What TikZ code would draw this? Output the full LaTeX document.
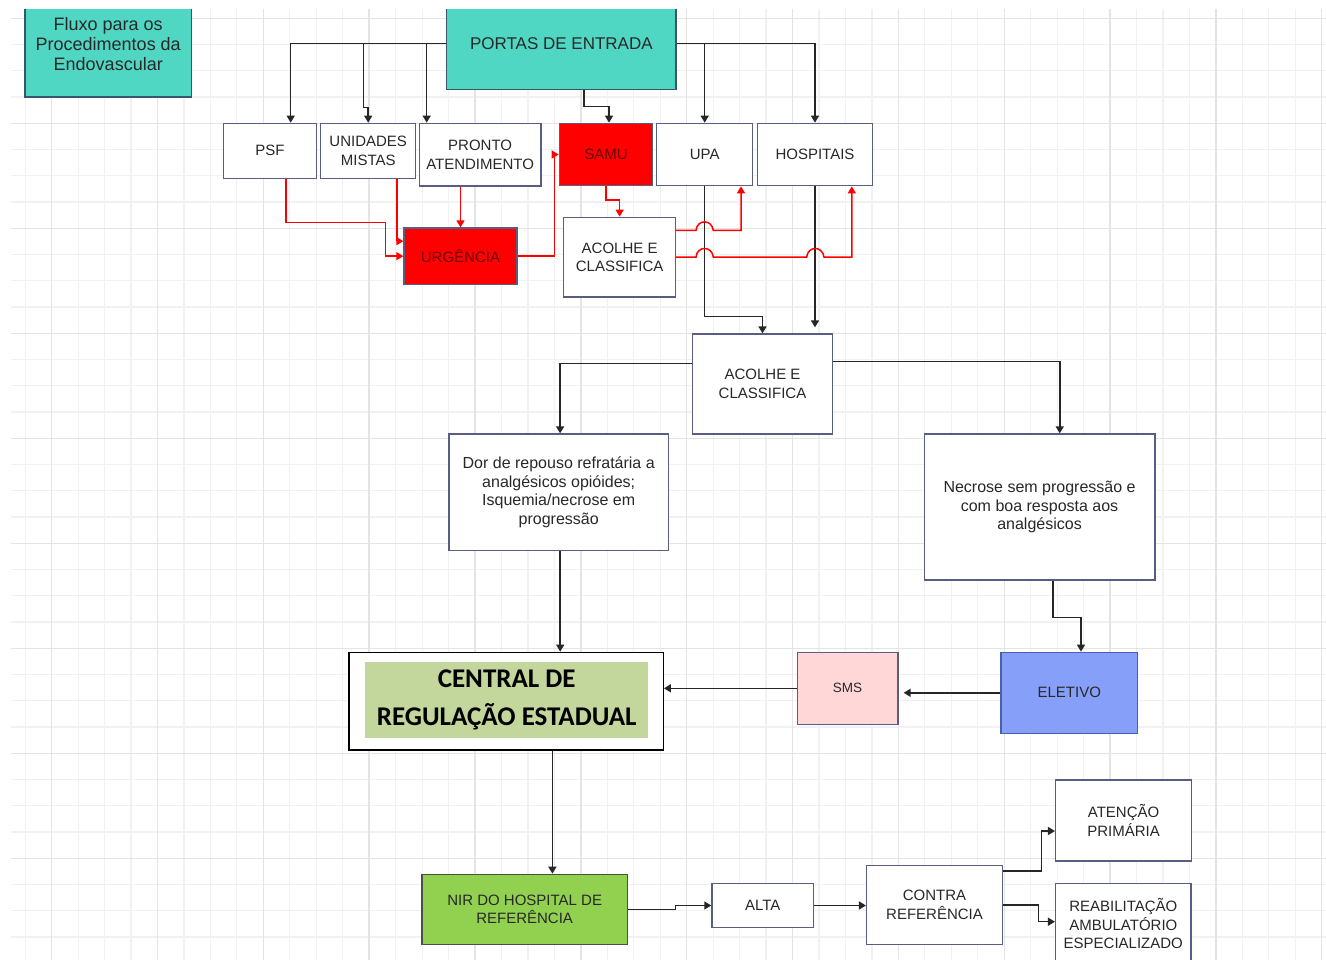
\documentclass[tikz,border=0pt]{standalone}
\usepackage{fontspec}
\setmainfont{Liberation Sans}
\newfontfamily\calfont{Carlito}
\usetikzlibrary{arrows.meta,calc}
\definecolor{gridl}{RGB}{241,241,241}
\definecolor{gridh}{RGB}{228,228,228}
\definecolor{turq}{RGB}{80,215,196}
\definecolor{tborder}{RGB}{55,85,110}
\definecolor{bordc}{RGB}{88,94,130}
\definecolor{txtc}{RGB}{40,40,40}
\definecolor{dred}{RGB}{105,0,0}
\definecolor{cgreen}{RGB}{195,214,155}
\definecolor{spink}{RGB}{255,215,215}
\definecolor{eblue}{RGB}{134,160,250}
\definecolor{eborder}{RGB}{70,95,175}
\definecolor{ngreen}{RGB}{146,208,80}
\definecolor{nborder}{RGB}{70,80,70}
\newcommand\labfont{\fontsize{15}{18.5}\selectfont}
\newcommand\longfont{\fontsize{16}{18.5}\selectfont}
\newcommand\titlefont{\fontsize{18}{20}\selectfont}
\newcommand\portfont{\fontsize{17}{19}\selectfont}
\newcommand\smsfont{\fontsize{13.5}{15}\selectfont}
\newcommand\centralfont{\calfont\bfseries\fontsize{27}{38}\selectfont}
\begin{document}
\begin{tikzpicture}[x=1pt,y=-1pt,
  box/.style={draw=bordc, line width=1.3pt, fill=white, inner sep=0pt, align=center, text=txtc, font=\labfont},
  arr/.style={draw=black!85, line width=1.5pt, -{Triangle[length=7pt,width=8pt]}},
  rarr/.style={draw=red, line width=1.5pt, -{Triangle[length=7pt,width=8pt]}}]
\useasboundingbox (0,0) rectangle (1326,960);
\fill[white] (0,0) rectangle (1326,960);
\begin{scope}
\clip (0,9.5) rectangle (1326,960);
% grid
\foreach \j in {0,...,49}{\draw[gridl, line width=1.2pt] ({25.2+26.46*\j},9.5) -- ({25.2+26.46*\j},960);}
\foreach \j in {0,...,35}{\draw[gridl, line width=1.2pt] (11,{18.3+26.25*\j}) -- (1326,{18.3+26.25*\j});}
\foreach \j in {1,5,...,49}{\draw[gridh, line width=1.4pt] ({25.2+26.46*\j},9.5) -- ({25.2+26.46*\j},960);}
\foreach \j in {0,4,...,32}{\draw[gridh, line width=1.4pt] (11,{18.3+26.25*\j}) -- (1326,{18.3+26.25*\j});}

% nodes
\node[box, fill=turq, draw=tborder, minimum width=166.5pt, minimum height=106pt, font=\titlefont] (title) at (108.25,44) {Fluxo para os\\Procedimentos da\\Endovascular};
\node[box, fill=turq, draw=tborder, minimum width=229.3pt, minimum height=92pt, font=\portfont] (portas) at (561.35,43.3) {PORTAS DE ENTRADA};
\node[box, minimum width=93.4pt, minimum height=55pt] (psf) at (270,150.8) {PSF};
\node[box, minimum width=95pt, minimum height=55pt] (unid) at (368.2,150.8) {UNIDADES\\MISTAS};
\node[box, minimum width=121.7pt, minimum height=62.7pt] (pronto) at (480.15,154.65) {PRONTO\\ATENDIMENTO};
\node[box, fill=red, text=dred, minimum width=93.4pt, minimum height=62.4pt] (samu) at (606,154.5) {SAMU};
\node[box, minimum width=96pt, minimum height=62.4pt] (upa) at (704.7,154.5) {UPA};
\node[box, minimum width=114.6pt, minimum height=62.4pt] (hosp) at (815,154.5) {HOSPITAIS};
\node[box, fill=red, text=dred, minimum width=113pt, minimum height=56.3pt] (urg) at (460.5,256.15) {URGÊNCIA};
\node[box, minimum width=111.7pt, minimum height=79.7pt] (acolheA) at (619.65,257.15) {ACOLHE E\\CLASSIFICA};
\node[box, minimum width=140.6pt, minimum height=100pt] (acolheB) at (762.5,384) {ACOLHE E\\CLASSIFICA};
\node[box, font=\longfont, minimum width=219.2pt, minimum height=116.7pt] (dor) at (558.7,492.35) {Dor de repouso refratária a\\analgésicos opióides;\\Isquemia/necrose em\\progressão};
\node[box, font=\longfont, minimum width=230.7pt, minimum height=146pt] (necrose) at (1039.55,507) {Necrose sem progressão e\\com boa resposta aos\\analgésicos};
\node[box, draw=black, minimum width=314.3pt, minimum height=97.7pt] (central) at (506.15,701.15) {};
\node[fill=cgreen, inner sep=0pt, minimum width=283pt, minimum height=76.6pt, align=center, font=\centralfont] (centralTxt) at (506.7,700) {CENTRAL DE\\REGULAÇÃO ESTADUAL};
\node[box, fill=spink, minimum width=100.8pt, minimum height=72pt, font=\smsfont] (sms) at (847.6,688.3) {SMS};
\node[box, fill=eblue, draw=eborder, minimum width=136.6pt, minimum height=81pt] (eletivo) at (1069.3,692.8) {ELETIVO};
\node[box, fill=ngreen, draw=nborder, minimum width=205.5pt, minimum height=70pt] (nir) at (524.65,909.3) {NIR DO HOSPITAL DE\\REFERÊNCIA};
\node[box, minimum width=101.6pt, minimum height=44.4pt] (alta) at (762.7,905.5) {ALTA};
\node[box, minimum width=135.9pt, minimum height=78.6pt] (contra) at (934.55,905) {CONTRA\\REFERÊNCIA};
\node[box, minimum width=135.9pt, minimum height=81pt] (atencao) at (1123.55,820.5) {ATENÇÃO\\PRIMÁRIA};
\node[box, minimum width=135.4pt, minimum height=80.4pt] (reab) at (1123.3,923.5) {REABILITAÇÃO\\AMBULATÓRIO\\ESPECIALIZADO};

% black connectors
\draw[arr] (portas.west) -| ([xshift=20.7pt]psf.north);
\draw[arr] (portas.west) -| ([xshift=-4.9pt,yshift=15.3pt]unid.north) -| (unid.north);
\draw[arr] (portas.west) -| ([xshift=-53.45pt]pronto.north);
\draw[arr] ([xshift=22.65pt]portas.south) -- ++(0,16.7) -| ([xshift=3pt]samu.north);
\draw[arr] (portas.east) -| (upa.north);
\draw[arr] (portas.east) -| (hosp.north);
\draw[arr] (upa.south) -- ++(0,130) -| (acolheB.north);
\draw[arr, shorten >=6pt] (hosp.south) -- (hosp.south |- acolheB.north);
\draw[arr] ([yshift=20.7pt]acolheB.west) -| ([xshift=1.4pt]dor.north);
\draw[arr] ([yshift=22.3pt]acolheB.east) -| ([xshift=20.2pt]necrose.north);
\draw[arr] ([xshift=1.5pt]dor.south) -- ([xshift=1.5pt]dor.south |- central.north);
\draw[arr] ([xshift=13.5pt]necrose.south) -- ++(0,37) -| ([xshift=11.7pt]eletivo.north);
\draw[arr, shorten >=5pt] (eletivo.west) -- (eletivo.west -| sms.east);
\draw[arr] (sms.west) -- (sms.west -| central.east);
\draw[arr] ([xshift=46.25pt]central.south) -- ([xshift=46.25pt]central.south |- nir.north);
\draw[arr] (nir.east) -- ++(47.3,0) |- (alta.west);
\draw[arr] (alta.east) -- (alta.east -| contra.west);
\draw[arr] ([yshift=34pt]contra.east) -- ++(38.4,0) |- ([yshift=-10.5pt]atencao.west);
\draw[arr] (contra.east) -- ++(35.5,0) |- ([yshift=1.8pt]reab.west);

% red connectors
\draw[rarr] ([xshift=16.2pt]psf.south) |- (385.3,222.7) |- (urg.west);
\draw[rarr] ([xshift=28.7pt]unid.south) |- ([yshift=15pt]urg.west);
\draw[rarr] (urg.north |- pronto.south) -- (urg.north);
\draw[rarr] (urg.east) -- ++(37,0) |- (samu.west);
\draw[rarr] (samu.south) -- ++(0,13.6) -| (acolheA.north);
\draw[rarr] ([yshift=26.65pt]acolheA.east) -- (696,230.5) .. controls (697,219) and (712,219) .. (713.3,230.5) -| ([xshift=36.3pt]upa.south);
\draw[rarr] (acolheA.east) -- (696,257.15) .. controls (697,245.6) and (712,245.6) .. (713.3,257.15) -- (806.7,257.15) .. controls (807.7,245.6) and (822.7,245.6) .. (824,257.15) -| ([xshift=36.8pt]hosp.south);
\end{scope}
\end{tikzpicture}
\end{document}
